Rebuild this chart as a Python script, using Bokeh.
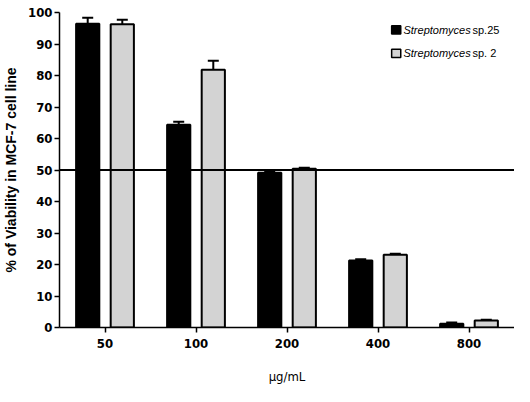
from bokeh.plotting import figure
from bokeh.models import FactorRange, Whisker, ColumnDataSource, Span, Label, TeeHead, Range1d, FixedTicker
from bokeh.transform import dodge
from bokeh.embed import file_html
from bokeh.resources import INLINE

concentrations = ["50", "100", "200", "400", "800"]
sp25 = [96.4, 64.4, 49.1, 21.3, 1.2]
sp25_err = [1.9, 0.9, 0.3, 0.4, 0.4]
sp2 = [96.3, 81.8, 50.4, 23.1, 2.2]
sp2_err = [1.4, 2.9, 0.3, 0.3, 0.3]
y_ticks = [0, 10, 20, 30, 40, 50, 60, 70, 80, 90, 100]
threshold = 50
legend_names = ["sp.25", "sp. 2"]

src = ColumnDataSource(dict(
    conc=concentrations,
    sp25=sp25, sp25_top=[v + e for v, e in zip(sp25, sp25_err)],
    sp2=sp2, sp2_top=[v + e for v, e in zip(sp2, sp2_err)],
))

FONT = "DejaVu Sans Condensed"

p = figure(width=514, height=386, x_range=FactorRange(*concentrations),
           y_range=Range1d(0, 100), output_backend="svg", toolbar_location=None,
           min_border_left=10, min_border_right=0, min_border_top=12, min_border_bottom=10)
p.outline_line_color = None
p.grid.visible = False
p.x_range.range_padding = 0.0

off = 0.19
w = 0.255
p.vbar(x=dodge("conc", -off, range=p.x_range), top="sp25", width=w, source=src,
       fill_color="black", line_color="black", line_width=2)
p.vbar(x=dodge("conc", off, range=p.x_range), top="sp2", width=w, source=src,
       fill_color="#d3d3d3", line_color="black", line_width=2)

for col, o in (("sp25", -off), ("sp2", off)):
    wk = Whisker(base=dodge("conc", o, range=p.x_range), lower=col, upper=col + "_top",
                 source=src, line_color="black", line_width=2,
                 upper_head=TeeHead(size=11, line_width=2, line_color="black"),
                 lower_head=None)
    p.add_layout(wk)

p.add_layout(Span(location=threshold, dimension="width", line_color="black", line_width=2))

# axes
p.yaxis.ticker = FixedTicker(ticks=y_ticks)
p.yaxis.minor_tick_line_color = None
for ax in (p.xaxis, p.yaxis):
    ax.axis_line_width = 1.5
    ax.major_tick_line_width = 1.5
    ax.major_tick_out = 5
    ax.major_tick_in = 0
    ax.major_label_text_font = FONT
    ax.major_label_text_font_style = "bold"
    ax.major_label_text_font_size = "13px"
    ax.major_label_text_color = "black"
    ax.axis_label_text_color = "black"
    ax.axis_line_color = "black"
    ax.major_tick_line_color = "black"
p.yaxis.major_label_standoff = 2
p.yaxis.axis_label = "% of Viability in MCF-7 cell line"
p.yaxis.axis_label_text_font = "Liberation Sans"
p.yaxis.axis_label_text_font_style = "bold"
p.yaxis.axis_label_text_font_size = "14px"
p.yaxis.axis_label_standoff = 6
p.xaxis.axis_label = "µg/mL"
p.xaxis.axis_label_text_font = FONT
p.xaxis.axis_label_text_font_style = "normal"
p.xaxis.axis_label_text_font_size = "13px"
p.xaxis.axis_label_standoff = 18
p.xaxis.major_label_standoff = 6

# legend (manual, to allow italic genus)
lx = 3.7
for i, (fill, name) in enumerate(zip(["black", "#d3d3d3"], legend_names)):
    yy = 94.5 - i * 7.5
    p.rect(x=[lx], y=[yy], width=0.1, height=2.6, fill_color=fill, line_color="black", line_width=1.5)
    p.add_layout(Label(x=lx + 0.08, y=yy, text="Streptomyces", text_font="Liberation Sans",
                       text_font_style="italic", text_font_size="11px", text_baseline="middle",
                       text_color="black"))
    p.add_layout(Label(x=lx + 0.08, y=yy, x_offset=69, text=name, text_font="Liberation Sans",
                       text_font_size="11px", text_baseline="middle", text_color="black"))

open("out.html", "w").write(file_html(p, INLINE))
